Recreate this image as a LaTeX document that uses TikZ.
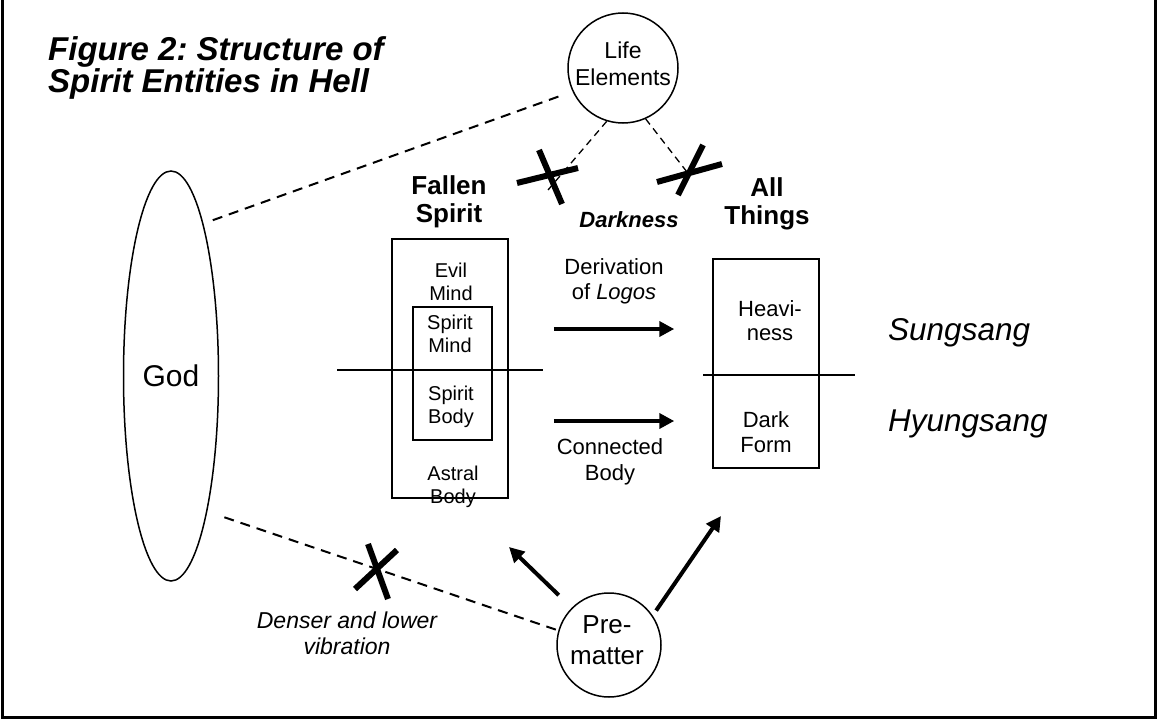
\documentclass[tikz,border=0pt]{standalone}
\usepackage{fontspec}
\setmainfont{Liberation Sans}
\usetikzlibrary{shapes.geometric,arrows.meta}
\newcommand\fsz[2]{\fontsize{#1}{#2}\selectfont}
\frenchspacing
\begin{document}
\begin{tikzpicture}[x=1pt,y=-1pt,
  box/.style={draw,line width=1.5pt,inner sep=0pt},
  lbl/.style={align=center,inner sep=0pt},
  ring/.style={draw,circle,line width=1.5pt,inner sep=0pt},
  dashlong/.style={line width=2pt,dash pattern=on 10pt off 7pt},
  dashshort/.style={line width=1.3pt,dash pattern=on 7pt off 5pt},
  cross/.style={line width=6pt},
  bigarrow/.style={line width=4pt,-{Triangle[length=15pt,width=15pt]}},
  divider/.style={line width=1.5pt}]
\useasboundingbox (0,0) rectangle (1160,720);
\draw[line width=3pt] (2,-10) rectangle (1155,717);

% title
\node[anchor=west,align=left,inner sep=0pt,font=\fsz{33}{32}\bfseries\itshape] (title) at (48,67.5) {Figure 2: Structure of\\Spirit Entities in Hell};

% main shapes
\node[draw,ellipse,line width=1.5pt,minimum width=95pt,minimum height=410pt,inner sep=0pt,font=\fsz{30}{34}] (god) at (171,376) {God};
\node[ring,minimum size=110pt] (life) at (623,68) {};
\node[lbl,font=\fsz{23}{27}] (lifetext) at (623,63.5) {Life\\Elements};
\node[ring,minimum size=104pt] (pre) at (609,645) {};
\node[lbl,font=\fsz{26}{31}] (pretext) at (607,640) {Pre-\\matter};

\node[box,minimum width=116pt,minimum height=259pt] (fallen) at (450,368.5) {};
\node[box,minimum width=79pt,minimum height=133pt] (inner) at (452.5,373.5) {};
\node[box,minimum width=106pt,minimum height=209pt] (things) at (766,363.5) {};

\draw[divider] (337,370) -- (543,370);
\draw[divider] (703,375) -- (855,375);

% labels
\node[lbl,font=\fsz{26}{28}\bfseries] (fallenlbl) at (449,202) {Fallen\\Spirit};
\node[lbl,font=\fsz{26}{28}\bfseries] (thingslbl) at (767,204) {All\\Things};
\node[lbl,font=\fsz{22}{26}\bfseries\itshape] (dark) at (629,220) {Darkness};

\node[lbl,font=\fsz{20}{23}] (evil) at (451,282.3) {Evil\\Mind};
\node[lbl,font=\fsz{20}{23}] (smind) at (450,334.3) {Spirit\\Mind};
\node[lbl,font=\fsz{20}{23}] (sbody) at (451,406.4) {Spirit\\Body};
\node[lbl,font=\fsz{20}{23}] (astral) at (453,486.4) {Astral\\Body};

\node[lbl,font=\fsz{22}{24}] (heavy) at (770,321) {Heavi-\\ness};
\node[lbl,font=\fsz{22}{25}] (darkform) at (766,432) {Dark\\Form};

\node[lbl,font=\fsz{22}{25}] (deriv) at (614,281) {Derivation\\of \textit{Logos}};
\node[lbl,font=\fsz{22}{26}] (conn) at (610,462) {Connected\\Body};

\node[anchor=base west,inner sep=0pt,font=\fsz{31.5}{34}\itshape] (sung) at (888,340) {Sungsang};
\node[anchor=base west,inner sep=0pt,font=\fsz{31.5}{34}\itshape] (hyung) at (888,431) {Hyungsang};

\node[lbl,font=\fsz{23}{26}\itshape] (denser) at (347,633) {Denser and lower\\vibration};

% arrows between boxes
\draw[bigarrow] ([xshift=45pt,yshift=39.5pt]fallen.east) -- ([xshift=-38pt,yshift=34.5pt]things.west);
\draw[bigarrow] ([xshift=45pt,yshift=-52.5pt]fallen.east) -- ([xshift=-38pt,yshift=-57.5pt]things.west);

% arrows from pre-matter
\coordinate (tipL) at (509,547);
\coordinate (tipR) at (721,516);
\draw[bigarrow,shorten <=18pt] (pre.135.6) -- (tipL);
\draw[bigarrow,shorten <=6pt] (pre.34.5) -- (tipR);

% dashed connections
\draw[dashlong,shorten <=10pt,shorten >=10pt] (god.78.7) -- (life.205);
\draw[dashlong,shorten <=18pt] (god.-75.3) -- (pre.164.5);
\coordinate (endL) at (548,190);
\coordinate (endR) at (687,172);
\draw[dashshort] (life.253) -- (endL);
\draw[dashshort] (life.-66.4) -- (endR);

% crosses
\draw[cross] (517,183) -- (578,168);
\draw[cross] (539,150) -- (562,204);
\draw[cross] (657,182) -- (722,164);
\draw[cross] (703,145) -- (678,195);
\draw[cross] (355,589) -- (397,550);
\draw[cross] (368,544) -- (388,599);
\end{tikzpicture}
\end{document}
